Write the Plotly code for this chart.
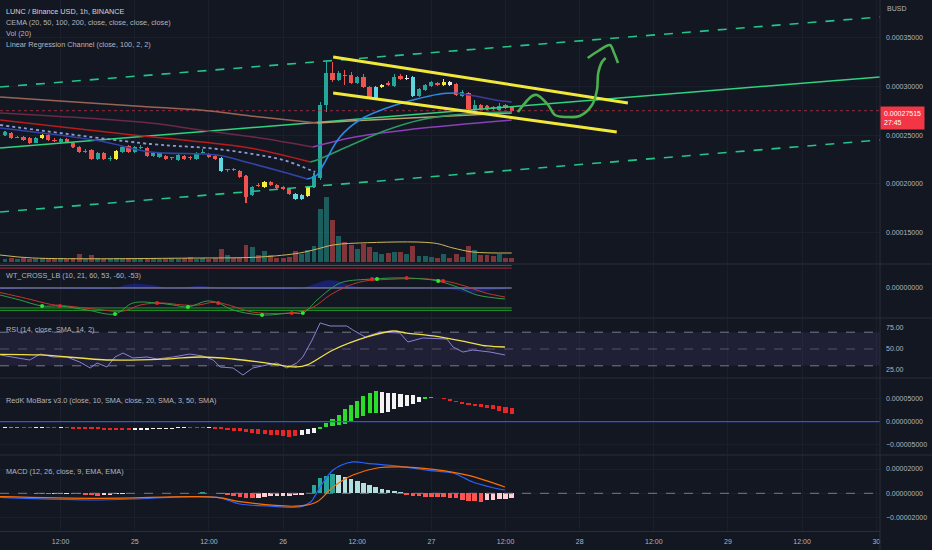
import plotly.graph_objects as go
import pandas as pd

START = pd.Timestamp("2022-10-24 03:00")
HOUR_MS = 3600000

# ---------------- candles (1h), prices in 1e-8 BUSD ----------------
OPEN = [25020, 25226, 24760, 24815, 24712, 24199, 24712, 25020, 24507, 24302,
        24610, 24199, 23789, 23300, 23481, 22556, 23173, 22600, 22556, 23275,
        23891, 23275, 23700, 23686, 22864, 22762, 22864, 22620, 22454, 22864,
        22680, 22556, 23150, 23070, 22864, 22659, 21380, 21530, 21324, 20811,
        18860, 19887, 19682, 20195, 19887, 19682, 19476, 18963, 18450, 18758,
        19682, 20606, 28101, 31386, 30667, 31200, 31181, 30359, 30975, 29949,
        28819, 29949, 30359, 30051, 31078, 30770, 30975, 29025, 29641, 30051,
        30359, 30154, 30462, 30257, 29025, 29333, 27690, 28101, 27998, 27895,
        27587, 28101, 27895]
HIGH = [25430, 25330, 24920, 24900, 24780, 24800, 25100, 25100, 24700, 24680,
        24700, 24300, 23850, 23550, 23550, 23250, 23250, 22850, 23450, 23900,
        23950, 23850, 24000, 23750, 23250, 23250, 22950, 22800, 23050, 22950,
        22850, 23250, 23550, 23150, 22950, 22750, 21550, 21650, 21430, 20900,
        19800, 20100, 20300, 20300, 19950, 19750, 19550, 19050, 18950, 19800,
        21100, 28400, 32721, 32515, 31600, 31700, 31500, 31100, 31300, 30050,
        30050, 30250, 30550, 31300, 31300, 31150, 31100, 29850, 30250, 30550,
        30450, 30800, 30550, 30350, 29650, 29450, 28600, 28200, 28100, 28000,
        28300, 28200, 28000]
LOW = [24920, 24610, 24710, 24450, 24100, 24150, 24650, 24450, 24300, 24250,
       24150, 23700, 23200, 23200, 22500, 22500, 22480, 22350, 22500, 23200,
       23200, 23200, 23600, 22800, 22800, 22700, 22500, 22500, 22400, 22500,
       22450, 22500, 23050, 22700, 22500, 21250, 21250, 21350, 20650, 18039,
       18760, 19700, 19600, 19800, 19500, 19400, 18900, 18300, 18350, 18650,
       19600, 20400, 27382, 30500, 30550, 30154, 30250, 30250, 29850, 28700,
       28750, 29850, 30050, 29950, 30650, 30700, 28950, 28950, 29550, 29950,
       30050, 30100, 30050, 29050, 28950, 27600, 27500, 27600, 27550, 27600,
       27500, 27700, 27350]
CLOSE = [25328, 24712, 24815, 24507, 24199, 24712, 25020, 24507, 24400, 24610,
         24199, 23789, 23275, 23420, 22556, 23173, 22556, 22680, 23378, 23789,
         23275, 23789, 23750, 22864, 23173, 23173, 22556, 22680, 22967, 22556,
         22620, 23173, 23200, 22762, 22556, 21324, 21430, 21450, 20708, 18655,
         19682, 19780, 20195, 19887, 19579, 19476, 18963, 18450, 18860, 19682,
         20811, 28101, 31386, 30667, 31386, 31050, 30359, 30975, 29949, 28819,
         29949, 30154, 30154, 30975, 30770, 30873, 29025, 29743, 30154, 30462,
         30154, 30462, 30154, 29127, 29435, 27690, 28101, 27690, 27690, 27690,
         27998, 27793, 27515]
BAR_KIND = list("trtrrtyrrt" "rrrtrtrtyt" "rttrttrttr" "rttrrctrrr" "tryrrrrccy"
                "tttrtrrtrr" "cyrtrwcttt" "rywrtrtrrr" "trr")
VOLUME = [3, 4, 3, 4, 3, 3, 4, 3, 3, 4, 3, 4, 8, 3, 7, 4, 3, 3, 4, 3,
          4, 3, 3, 3, 4, 3, 3, 4, 3, 4, 5, 3, 4, 3, 4, 13, 7, 4, 4, 17,
          15, 7, 11, 7, 4, 4, 5, 11, 8, 12, 16, 53, 65, 42, 26, 20, 17, 13, 18, 15,
          10, 8, 9, 10, 10, 8, 16, 6, 6, 5, 4, 8, 4, 8, 5, 16, 12, 7, 7, 6,
          8, 4, 4]
VMA_I = [-0.8, 4.5, 31.6, 41.3, 47.7, 50.5, 53.1, 57.4, 69.3, 72.5, 75.7, 82.0]
VMA = [7, 4, 4, 5, 9, 13, 17, 19, 19, 14, 10, 9]

# ---------------- CEMA lines (bar index, price 1e-8) ----------------
EMA20_I = [-0.8, 15.4, 23.5, 34.3, 39.6, 45.0, 48.9, 50.5, 51.5, 54.2, 57.4, 61.8, 66.0, 70.4, 73.1, 76.1, 79.3, 82.0]
EMA20_P = [25739, 24404, 23275, 22967, 22146, 21222, 20503, 20914, 21940, 24815, 26561, 27793, 28614, 29230, 29333, 29025, 28614, 28409]
EMA50_I = [-0.8, 20.7, 28.8, 39.6, 49.4, 50.5, 55.3, 61.8, 67.2, 72.5, 76.4, 82.0]
EMA50_P = [26561, 25020, 24507, 23686, 22249, 22454, 23789, 25534, 26561, 27074, 27279, 27382]
EMA100_I = [-0.8, 23.5, 31.6, 41.3, 49.8, 55.8, 58.6, 69.3, 82.0]
EMA100_P = [27279, 26253, 25534, 24712, 23789, 24712, 25020, 25842, 26561]
EMA200_I = [-0.8, 23.5, 31.6, 41.3, 50.5, 55.8, 82.0]
EMA200_P = [28922, 27895, 27587, 26869, 26253, 26458, 27279]
DOT_I = [-0.8, 23.5, 34.3, 45.0, 49.4, 50.2]
DOT_P = [26047, 24097, 23583, 22454, 21427, 21222]

# ---------------- linear regression channel & drawings ----------------
REG_I = [-0.8, 141.6]
REG_MID = [23686, 30975]
REG_UP = [29949, 37136]
REG_LO = [17115, 24507]
CH_UP_I = [53.1, 100.8]
CH_UP_P = [33029, 28306]
CH_LO_I = [53.1, 99.0]
CH_LO_P = [29333, 25328]
ARROW_I = [83.0, 85.3, 86.1, 87.9, 89.0, 90.9, 93.0, 95.0, 95.8, 96.0, 96.6, 97.2]
ARROW_P = [27382, 29025, 29127, 28101, 27074, 26869, 26972, 28101, 29641, 31386, 32515, 32926]
HEAD_I = [94.3, 96.0, 97.9, 98.5, 99.2]
HEAD_P = [32926, 33645, 34261, 33542, 32413]
LAST_PRICE = 0.00027515

# ---------------- WT_CROSS_LB ----------------
WT1_I = [-0.8, 2.4, 6.0, 8.9, 13.3, 17.8, 20.7, 24.6, 27.2, 29.6, 32.7, 34.5, 36.9, 41.6, 46.4, 48.2, 50.5, 53.1, 54.7, 59.4, 65.0, 70.1, 73.6, 76.4, 80.9]
WT1 = [-18.7, -32, -48, -48, -58.7, -69.3, -40, -40, -45.3, -50.7, -34.7, -40, -58.7, -72, -66.7, -66.7, -32, 2.7, 16, 24, 26.7, 18.7, 0, -18.7, -29.3]
WT2_I = [-0.8, 3.5, 7.5, 10.0, 15.0, 19.0, 22.0, 25.5, 28.5, 31.0, 34.0, 36.5, 40.0, 44.0, 47.5, 50.0, 52.5, 55.0, 58.0, 62.0, 66.5, 70.8, 74.5, 77.5, 80.9]
WT2 = [-12, -28, -44, -48, -57, -62, -45, -40, -45, -46, -38, -47, -64, -68, -64, -50, -20, 2, 18, 23, 25, 20, 5, -12, -24]
WTD_I = [-0.8, 5, 18, 19.5, 22, 24.5, 26, 29.5, 31.5, 33.5, 35, 40, 48, 50, 52, 54, 56, 58, 62, 66, 70, 73, 75, 77, 79, 80.9]
WTD = [-3, 0, 0, 8, 11, 6, 0, 2, 6, 2, 0, -2, 0, 10, 20, 18, 6, 2, 2, 1, 0, -6, -13, -11, -5, -3]
XG_I = [6.0, 17.8, 29.6, 41.6, 48.2, 60.2, 70.1]
XG = [-48, -69.3, -50.7, -72, -66.7, 24, 18.7]
XR_I = [8.9, 24.6, 34.5, 46.4, 59.4, 65.0, 70.9]
XR = [-48, -40, -40, -66.7, 24, 26.7, 18.7]

# ---------------- RSI ----------------
RSI_I = [-0.8, 1.3, 4.0, 5.7, 7.8, 10.0, 12.1, 13.8, 14.9, 16.5, 17.8, 19.1, 20.7, 23.0, 24.6, 27.2, 29.9, 32.0, 33.7, 34.8,
         36.9, 38.5, 40.1, 42.4, 44.0, 45.6, 47.2, 48.2, 49.7, 51.0, 52.6, 55.3, 56.3, 58.3, 60.7, 63.9, 65.2, 67.6, 71.5, 72.5,
         74.1, 75.7, 78.5, 80.9]
RSI = [42.9, 40.5, 36.9, 44.0, 40.5, 40.5, 34.5, 27.4, 33.3, 28.6, 40.5, 45.2, 39.3, 40.5, 38.1, 40.5, 44.0, 41.7, 36.9, 28.6,
       27.4, 19.0, 27.4, 31.0, 33.3, 27.4, 33.3, 40.5, 60.7, 81.0, 77.4, 77.4, 72.6, 64.3, 70.2, 69.0, 58.3, 63.1, 61.9, 52.4,
       46.4, 48.8, 46.4, 42.9]
RSIMA_I = [-0.8, 5.7, 17.0, 26.2, 31.6, 36.9, 42.4, 47.2, 48.9, 53.1, 58.6, 62.8, 65.0, 69.3, 74.8, 78.0, 80.9]
RSIMA = [43.7, 42.9, 36.9, 38.1, 40.5, 38.1, 33.3, 28.6, 31.0, 48.8, 64.3, 71.4, 69.0, 65.5, 58.3, 53.6, 52.4]

# ---------------- RedK MoBars (1e-6) ----------------
MOB_LO = [-13, -13, -13, -13, -13, -13, -13, -14, -14, -13,
          -14, -15, -15, -15, -16, -16, -18, -18, -18, -17,
          -17, -17, -17, -17, -16, -16, -15, -15, -14, -14,
          -14, -14, -14, -14, -15, -16, -18, -20, -21, -23,
          -25, -26, -27, -28, -29, -30, -32, -31, -29, -27,
          -24, -16, -12, -9, -7, -4, 0, 7, 12, 18,
          18, 18, 21.5, 26.5, 31, 34, 38, 43, 48, 51,
          50, 49, 45, 42, 39, 36.5, 34, 32, 29.4, 26.5,
          23.6, 18, 17]
MOB_HI = [-12, -12, -11, -12, -12, -11, -11, -11, -11, -11,
          -11, -11, -11, -12, -12, -12, -13, -13, -13, -13,
          -13, -14, -14, -14, -14, -14, -13, -13, -13, -13,
          -13, -13, -12, -12, -12, -12, -13, -14, -14, -15,
          -16, -16, -17, -17, -18, -18, -18, -18, -18, -16,
          -14, -11, -2, 5, 14, 26.5, 36, 45, 55, 62,
          66, 64, 62, 61, 59, 58, 56.6, 53.6, 52, 52.5,
          51.5, 50.5, 48, 45, 43, 41, 39, 38, 36, 35,
          34, 31, 30]
MOB_KIND = list("wgGrrwwrrw" "rrrrrrrrrr" "rwwwwwwwww" "rrrwrrrrrr" "rrrrrrrrww"
                "wGGGGGGGGG" "GwwwwwwwGg" "rrrrrrrrrr" "rrr")

# ---------------- MACD (1e-6) ----------------
MACD_HIST = [0.5, 0.4, 0.4, 0.3, 0.2, -0.2, -0.4, -0.5, -0.4, -0.3,
             -0.2, -0.4, -0.8, -1.2, -1.6, -1.8, -1.5, -1.0, -0.6, -0.3,
             0.2, 0.4, 0.5, 0.4, 0.3, 0.4, 0.5, 0.6, 0.5, 0.4,
             0.5, 0.6, 0.7, 0.5, 0.3, -0.5, -1.5, -2.5, -3.0, -3.6,
             -3.8, -3.5, -3.0, -2.6, -2.3, -2.0, -1.8, -1.5, -1.0, 0.6,
             6.9, 12.3, 14.3, 15.6, 15.1, 13.7, 11.5, 10.4, 8.5, 6.9,
             4.9, 3.8, 2.7, 1.9, 0.8, -1.4, -2.2, -2.5, -2.8, -3.0,
             -3.1, -3.3, -3.5, -4.1, -5.5, -6.2, -6.6, -6.9, -5.6, -5.2,
             -4.8, -4.5, -4.2]
MACD_I = [-0.8, 15.4, 20.7, 34.3, 38.0, 42.4, 47.7, 49.4, 51.0, 53.1, 56.3, 58.6, 63.9, 69.3, 72.5, 75.7, 78.5, 80.9]
MACD_V = [-3.3, -5.5, -4.7, -3.3, -8.8, -10.4, -11.2, -7.4, 5.2, 19.2, 25.8, 24.7, 22.2, 18.4, 16.7, 9.3, 5.2, 2.7]
SIG_I = [-0.8, 15.4, 34.3, 38.0, 47.7, 50.5, 53.1, 56.3, 60.2, 63.9, 69.3, 74.8, 80.9]
SIG_V = [-2.7, -4.1, -3.3, -6.9, -10.4, -6.9, 5.2, 15.0, 20.8, 21.7, 19.7, 15.0, 5.2]

# ---------------- axis ticks ----------------
X_TICK_I = [9, 21, 33, 45, 57, 69, 81, 93, 105, 117, 129, 141]
X_TICK_TEXT = ["12:00", "25", "12:00", "26", "12:00", "27", "12:00", "28", "12:00", "29", "12:00", "30"]
PRICE_TICKS = [0.00015, 0.00020, 0.00025, 0.00030, 0.00035]
X_RANGE_I = [-0.81, 141.6]

P = 1e-8
U = 1e-6


def tx(idx):
    return [START + pd.Timedelta(hours=float(v)) for v in idx]


def sc(vals, k):
    return [v * k for v in vals]


BG = "#131722"
GRID = "#1b1f2c"
TXT = "#b2b5be"
FONT = "Liberation Sans, Arial, sans-serif"

times = tx(range(len(OPEN)))
full_x = tx(X_RANGE_I)
data_x = tx([-0.8, 82])

fig = go.Figure()


def line(xi, yv, color, width=1.3, dash="solid", yaxis="y", shape="spline", opacity=1.0):
    fig.add_trace(go.Scatter(x=tx(xi), y=yv, mode="lines", yaxis=yaxis, opacity=opacity,
                             line=dict(color=color, width=width, dash=dash, shape=shape),
                             hoverinfo="skip"))


# ---- main pane ----
line(X_RANGE_I, [LAST_PRICE, LAST_PRICE], "rgba(190,50,70,0.75)", 1, "dot", shape="linear")
line(REG_I, sc(REG_UP, P), "#22c48a", 1.6, "dash", shape="linear")
line(REG_I, sc(REG_LO, P), "#22c48a", 1.6, "dash", shape="linear")
line(REG_I, sc(REG_MID, P), "#2fd37e", 1.5, shape="linear")

ema200 = sc(EMA200_P, P)
line(EMA200_I[:5], ema200[:5], "#9a6455", 1.5)
line(EMA200_I[4:], ema200[4:], "#b6a06a", 1.5)
ema100 = sc(EMA100_P, P)
line(EMA100_I[:5], ema100[:5], "#6a2a45", 1.5)
line(EMA100_I[4:], ema100[4:], "#8b3fb8", 1.5)
ema50 = sc(EMA50_P, P)
line(EMA50_I[:5], ema50[:5], "#b71c1c", 1.6)
line(EMA50_I[4:], ema50[4:], "#2e9a62", 1.5)
line(DOT_I, sc(DOT_P, P), "#8f9bd8", 1.8, "dot")
ema20 = sc(EMA20_P, P)
line(EMA20_I[:7], ema20[:7], "#3344a8", 1.6)
line(EMA20_I[6:15], ema20[6:15], "#2a8ae6", 1.6)
line(EMA20_I[14:], ema20[14:], "#3f3aa0", 1.6)

kind_color = {"t": "#26a69a", "c": "#5fd6df", "r": "#ef5350", "y": "#f5eb3b", "w": "#e8e8e8"}
colors = [kind_color[k] for k in BAR_KIND]
fig.add_trace(go.Bar(x=times, base=sc(LOW, P), y=[(h - l) * P for h, l in zip(HIGH, LOW)],
                     width=0.17 * HOUR_MS, marker=dict(color=colors, line=dict(width=0)), hoverinfo="skip"))
fig.add_trace(go.Bar(x=times, base=[min(o, c) * P for o, c in zip(OPEN, CLOSE)],
                     y=[max(abs(c - o) * P, 1.0e-6) for o, c in zip(OPEN, CLOSE)],
                     width=0.68 * HOUR_MS, marker=dict(color=colors, line=dict(width=0)), hoverinfo="skip"))

line(CH_UP_I, sc(CH_UP_P, P), "#f2e83c", 3, shape="linear")
line(CH_LO_I, sc(CH_LO_P, P), "#f2e83c", 3, shape="linear")
line(ARROW_I, sc(ARROW_P, P), "#4caf50", 2.6)
line(HEAD_I, sc(HEAD_P, P), "#4caf50", 2.6)

# volume overlay
vcol = ["rgba(38,166,154,0.5)" if c >= o else "rgba(239,83,80,0.5)" for o, c in zip(OPEN, CLOSE)]
fig.add_trace(go.Bar(x=times, y=VOLUME, yaxis="y6", width=0.8 * HOUR_MS,
                     marker=dict(color=vcol, line=dict(width=0)), hoverinfo="skip"))
line(VMA_I, VMA, "#cdb85a", 1, yaxis="y6")

# ---- WT pane ----
for lv in (60, 53):
    fig.add_trace(go.Scatter(x=data_x, y=[lv, lv], yaxis="y2", mode="lines",
                             line=dict(color="#a8283a", width=1), hoverinfo="skip"))
fig.add_trace(go.Scatter(x=data_x, y=[-53, -53], yaxis="y2", mode="lines",
                         line=dict(color="#1f8a2a", width=1), hoverinfo="skip"))
fig.add_trace(go.Scatter(x=data_x, y=[-60, -60], yaxis="y2", mode="lines", fill="tonexty",
                         fillcolor="rgba(20,110,30,0.35)",
                         line=dict(color="#1f8a2a", width=1), hoverinfo="skip"))
fig.add_trace(go.Scatter(x=tx(WTD_I), y=WTD, yaxis="y2", mode="lines", fill="tozeroy",
                         fillcolor="rgba(30,40,160,0.6)", line=dict(color="rgba(30,40,160,0.6)", width=0, shape="spline"),
                         hoverinfo="skip"))
fig.add_trace(go.Scatter(x=data_x, y=[0, 0], yaxis="y2", mode="lines",
                         line=dict(color="#9a9ccf", width=1), hoverinfo="skip"))
line(WT2_I, WT2, "#c0392b", 1, yaxis="y2")
line(WT1_I, WT1, "#2e9e44", 1, yaxis="y2")
fig.add_trace(go.Scatter(x=tx(XG_I), y=XG, yaxis="y2", mode="markers",
                         marker=dict(color="#2ee82e", size=4), hoverinfo="skip"))
fig.add_trace(go.Scatter(x=tx(XR_I), y=XR, yaxis="y2", mode="markers",
                         marker=dict(color="#e8222a", size=4), hoverinfo="skip"))

# ---- RSI pane ----
fig.add_trace(go.Scatter(x=full_x, y=[70, 70], yaxis="y3", mode="lines",
                         line=dict(color="#787b86", width=1, dash="dash"), hoverinfo="skip"))
fig.add_trace(go.Scatter(x=full_x, y=[30, 30], yaxis="y3", mode="lines", fill="tonexty",
                         fillcolor="rgba(126,87,194,0.12)",
                         line=dict(color="#787b86", width=1, dash="dash"), hoverinfo="skip"))
fig.add_trace(go.Scatter(x=full_x, y=[50, 50], yaxis="y3", mode="lines",
                         line=dict(color="rgba(120,123,134,0.6)", width=1, dash="dash"), hoverinfo="skip"))
line(RSI_I, RSI, "#8a82d8", 1, yaxis="y3", shape="linear")
line(RSIMA_I, RSIMA, "#f0e14a", 1.3, yaxis="y3")

# ---- MoBars pane ----
fig.add_trace(go.Scatter(x=full_x, y=[0, 0], yaxis="y4", mode="lines",
                         line=dict(color="#2f56d6", width=1.3), hoverinfo="skip"))
mob_color = {"r": "#e82626", "G": "#2bdc2b", "w": "#f2f2f2", "g": "#8a8d96"}
fig.add_trace(go.Bar(x=times, base=sc(MOB_LO, U), y=[max(h - l, 1.6) * U for l, h in zip(MOB_LO, MOB_HI)],
                     yaxis="y4", width=0.66 * HOUR_MS,
                     marker=dict(color=[mob_color[k] for k in MOB_KIND], line=dict(width=0)), hoverinfo="skip"))

# ---- MACD pane ----
fig.add_trace(go.Scatter(x=full_x, y=[0, 0], yaxis="y5", mode="lines",
                         line=dict(color="#787b86", width=1, dash="dash"), hoverinfo="skip"))
hcol = []
for i, v in enumerate(MACD_HIST):
    prev = MACD_HIST[i - 1] if i > 0 else v
    if v >= 0:
        hcol.append("#26a69a" if v > prev else "#b2dfdb")
    else:
        hcol.append("#ff5252" if v < prev else "#ffcdd2")
fig.add_trace(go.Bar(x=times, y=sc(MACD_HIST, U), yaxis="y5", width=0.75 * HOUR_MS,
                     marker=dict(color=hcol, line=dict(width=0)), hoverinfo="skip"))
line(MACD_I, sc(MACD_V, U), "#2962ff", 1.2, yaxis="y5")
line(SIG_I, sc(SIG_V, U), "#ff6d00", 1.2, yaxis="y5")

# ---------------- layout ----------------
H_PLOT = 531.0


def dom(top_px, bot_px):
    return [1 - bot_px / H_PLOT, 1 - top_px / H_PLOT]


tickfont = dict(family=FONT, size=7, color=TXT)
yax_common = dict(side="right", anchor="x", showline=False, zeroline=False, ticks="",
                  tickfont=tickfont, ticklabelstandoff=5, gridcolor=GRID)

fig.update_layout(
    width=932, height=550,
    paper_bgcolor=BG, plot_bgcolor=BG,
    margin=dict(l=0, r=52, t=0, b=19, autoexpand=False),
    showlegend=False, barmode="overlay", bargap=0,
    font=dict(family=FONT, color=TXT),
    xaxis=dict(type="date", range=full_x, anchor="y5", tickvals=tx(X_TICK_I), ticktext=X_TICK_TEXT,
               showgrid=True, gridcolor=GRID, ticks="", tickfont=tickfont, showline=True,
               linecolor="#2a2e39", zeroline=False, ticklabelstandoff=4),
    yaxis=dict(domain=dom(0, 263.5), range=[0.00011827, 0.00038881], tickvals=PRICE_TICKS,
               ticktext=["%.8f" % v for v in PRICE_TICKS], showgrid=True, **yax_common),
    yaxis6=dict(overlaying="y", range=[-1.5, 262], visible=False),
    yaxis2=dict(domain=dom(264.5, 317.5), range=[-78.7, 62.7], tickvals=[0], ticktext=["0.00000000"],
                showgrid=False, **yax_common),
    yaxis3=dict(domain=dom(318.5, 377.5), range=[16.07, 86.3], tickvals=[25, 50, 75],
                ticktext=["25.00", "50.00", "75.00"], showgrid=False, **yax_common),
    yaxis4=dict(domain=dom(378.5, 454.5), range=[-70.4e-6, 92.7e-6], tickvals=[-5e-5, 0, 5e-5],
                ticktext=["\u22120.00005000", "0.00000000", "0.00005000"], showgrid=True, **yax_common),
    yaxis5=dict(domain=dom(455.5, 531), range=[-31.0e-6, 31.1e-6], tickvals=[-2e-5, 0, 2e-5],
                ticktext=["\u22120.00002000", "0.00000000", "0.00002000"], showgrid=True, **yax_common),
)

# pane separators and price-scale border
shapes = []
for ypx in [264, 318, 378, 455]:
    yp = 1 - ypx / H_PLOT
    shapes.append(dict(type="line", xref="paper", yref="paper", x0=0, x1=932 / 880, y0=yp, y1=yp,
                       line=dict(color="#2a2e39", width=1)))
shapes.append(dict(type="line", xref="paper", yref="paper", x0=1, x1=1, y0=-19 / H_PLOT, y1=1,
                   line=dict(color="#2a2e39", width=1)))
fig.update_layout(shapes=shapes)

# legend / pane titles
titles = [
    (11.5, "LUNC / Binance USD, 1h, BINANCE", "#d1d4dc"),
    (22.5, "CEMA (20, 50, 100, 200, close, close, close, close)", TXT),
    (33.5, "Vol (20)", TXT),
    (44.5, "Linear Regression Channel (close, 100, 2, 2)", TXT),
    (275, "WT_CROSS_LB (10, 21, 60, 53, -60, -53)", TXT),
    (329, "RSI (14, close, SMA, 14, 2)", TXT),
    (400, "RedK MoBars v3.0 (close, 10, SMA, close, 20, SMA, 3, 50, SMA)", TXT),
    (471, "MACD (12, 26, close, 9, EMA, EMA)", TXT),
]
for ypx, text, col in titles:
    fig.add_annotation(xref="paper", yref="paper", x=0, y=1 - ypx / H_PLOT, xshift=4,
                       xanchor="left", yanchor="middle", showarrow=False, text=text,
                       font=dict(family=FONT, size=7.3, color=col))

fig.add_annotation(xref="paper", yref="paper", x=1, y=1 - 9 / H_PLOT, xshift=5, xanchor="left",
                   yanchor="middle", showarrow=False, text="BUSD",
                   font=dict(family=FONT, size=7, color=TXT))
fig.add_annotation(xref="paper", yref="y", x=1, y=LAST_PRICE, xanchor="left", yanchor="top",
                   yshift=5, showarrow=False, align="left",
                   text="%.8f<br>27:45" % LAST_PRICE, bgcolor="#f23645", borderpad=3,
                   font=dict(family=FONT, size=7, color="#ffffff"))

fig.write_html("out.html", config={"displayModeBar": False, "staticPlot": True},
               post_script="document.body.style.margin='0';document.body.style.background='#131722';")
